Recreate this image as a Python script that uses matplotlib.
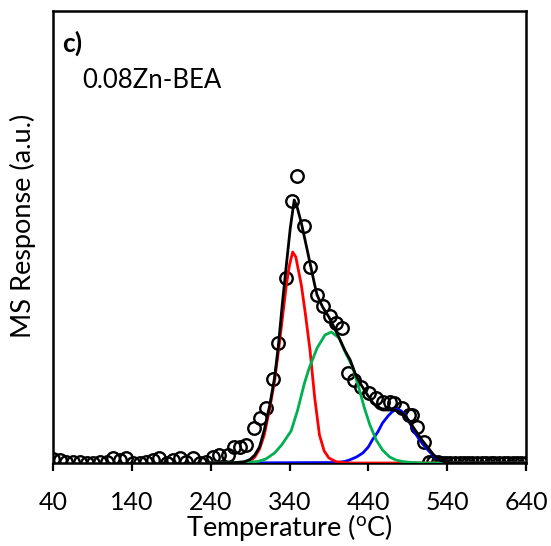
import matplotlib.pyplot as plt

plt.rcParams['font.family'] = ['Lato', 'DejaVu Sans']
plt.rcParams['mathtext.fontset'] = 'custom'
plt.rcParams['mathtext.rm'] = 'Lato'

# measured MS signal (open circles)
temp_data = [40, 49, 57, 66, 74, 83, 91, 100, 108, 116, 125, 133, 142, 150, 158,
             167, 175, 184, 192, 201, 209, 217, 226, 234, 243, 251, 262, 270, 277,
             285, 295, 302, 310, 319, 326, 336, 343, 350, 358, 366, 375, 382, 391,
             399, 407, 414, 422, 431, 441, 450, 458, 467, 473, 483, 492, 496, 502,
             511, 517, 522, 528, 533, 539, 544, 550, 556, 561, 567, 572, 578, 584,
             589, 595, 600, 606, 612, 617, 623, 628, 634, 640]
signal = [3.7, 3, 1.3, 1.3, 0.7, 0, 0, 0.7, 1.3, 4.7, 3, 4.7, 0, 0, 1.3,
          3, 4.7, 0, 3, 4.7, 1.3, 4.7, 0, 1.3, 6, 8, 8, 16, 16,
          18, 35, 45, 55, 84, 120, 185, 262, 287, 237, 196, 168, 157, 147,
          140, 135, 90, 83, 76, 70, 65, 61, 61, 60, 55, 48, 48, 36,
          21, 1.3, 1, 1, 0.5, 0.5, 0.5, 0.5, 0.5, 0.5, 0.5, 0.5, 0.5, 0.5,
          0.5, 0.5, 0.5, 0.5, 0.5, 0.5, 0.5, 0.5, 0.5, 0.5]

# deconvoluted peaks
red_t = [240, 280, 290, 296, 302, 308, 315, 321, 326, 331, 336, 340, 344, 348,
         355, 360, 366, 372, 378, 384, 390, 399, 410, 420, 640]
red_y = [0, 0.5, 2, 6, 14, 28, 55, 82, 112, 145, 178, 198, 211, 206,
         178, 150, 113, 65, 28, 12, 5, 1.3, 0.3, 0, 0]

green_t = [240, 280, 300, 310, 321, 330, 342, 350, 359, 365, 375, 385, 393, 403,
           410, 420, 428, 435, 442, 450, 458, 467, 475, 483, 495, 510, 640]
green_y = [0, 0.5, 1.5, 4, 10, 18, 32, 52, 80, 95, 115, 128, 131, 125,
           112, 96, 75, 55, 38, 23, 13, 6, 3, 1.5, 0.5, 0, 0]

blue_t = [240, 400, 410, 416, 425, 433, 440, 445, 452, 458, 465, 470, 476, 482,
          488, 494, 500, 506, 512, 518, 524, 530, 536, 545, 640]
blue_y = [0, 0.5, 1.5, 3, 6, 10, 16, 23, 31, 40, 47, 51, 54, 52,
          46, 38, 29, 22, 16, 11, 6, 3, 1, 0, 0]

fit_t = [240, 270, 283, 290, 296, 302, 308, 315, 321, 326, 331, 336, 341, 346,
         350, 355, 360, 366, 372, 375, 382, 390, 397, 403, 410, 417, 424, 431,
         439, 446, 452, 458, 466, 473, 480, 488, 495, 502, 508, 515, 522, 530,
         538, 545, 640]
fit_y = [0, 0.3, 1.3, 3.5, 8, 16, 33, 58, 85, 118, 160, 198, 235, 263,
         255, 240, 222, 200, 178, 168, 156, 146, 135, 125, 113, 103, 88, 78,
         68, 60, 55, 53, 53, 53, 51, 46, 38, 30, 23, 16, 9, 3,
         1, 0, 0]

xticks = [40, 140, 240, 340, 440, 540, 640]

fig = plt.figure(figsize=(5.51, 5.46), dpi=100)
ax = fig.add_axes([53 / 551, 1 - 463 / 546, 473 / 551, 452 / 546])

ax.plot(temp_data, signal, 'o', mfc='none', mec='black', ms=9, mew=1.7, zorder=2)
ax.plot(blue_t, blue_y, color='#0000ff', lw=2, zorder=3)
ax.plot(red_t, red_y, color='#ff0000', lw=2, zorder=4)
ax.plot(green_t, green_y, color='#00b050', lw=2, zorder=5)
ax.plot(fit_t, fit_y, color='black', lw=2, zorder=6)

ax.set_xlim(40, 640)
ax.set_ylim(0, 452)
ax.set_xticks(xticks)
ax.set_yticks([])
ax.tick_params(axis='x', direction='out', length=6, width=1.6, labelsize=18, pad=14)
for s in ax.spines.values():
    s.set_linewidth(1.8)
    s.set_zorder(1)

ax.set_xlabel(r'Temperature ($\mathregular{^{o}}$C)', fontsize=19.5, labelpad=-1)
ax.set_ylabel('MS Response (a.u.)', fontsize=19.5)
ax.yaxis.set_label_coords(-0.035, 0.525)

ax.text(0.019, 0.91, 'c)', transform=ax.transAxes, fontsize=19, fontweight='bold')
ax.text(0.061, 0.83, '0.08Zn-BEA', transform=ax.transAxes, fontsize=18.5)

fig.savefig('out.png', dpi=100)
